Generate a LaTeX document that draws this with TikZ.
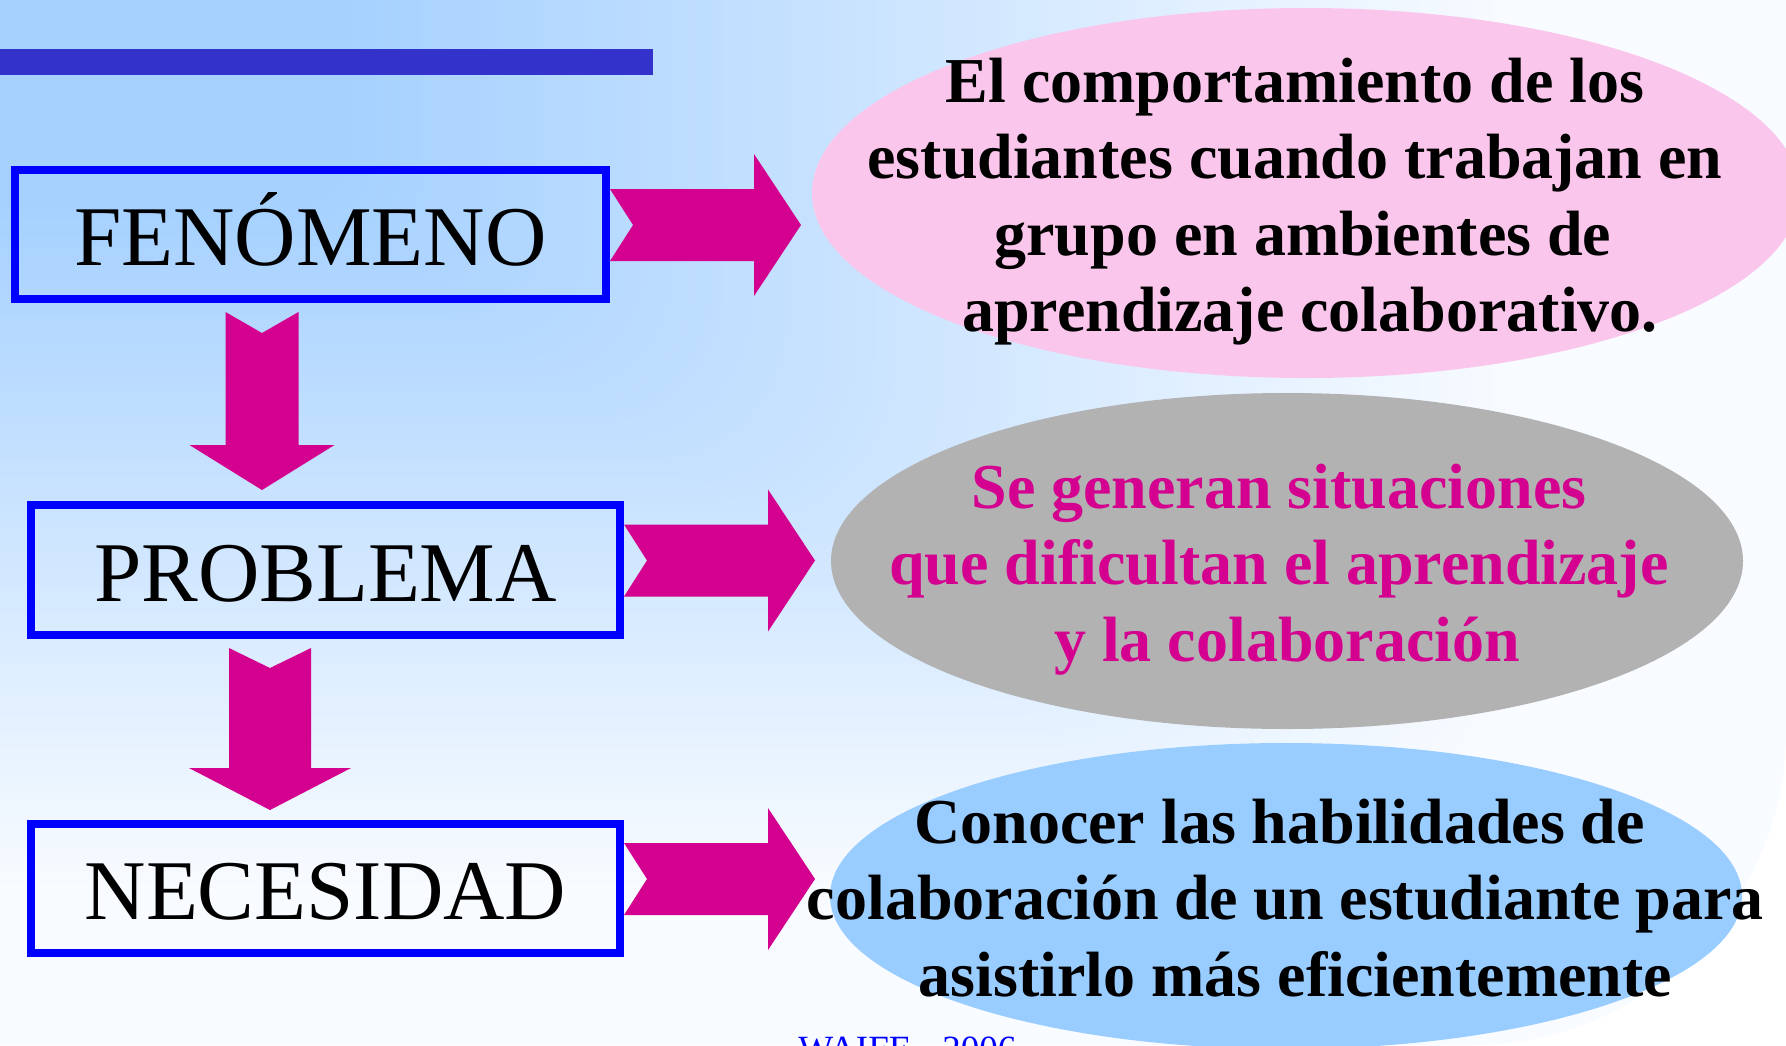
\documentclass[tikz,border=0pt]{standalone}
\usepackage{fontspec}
\setmainfont{Liberation Serif}
\usetikzlibrary{shapes.geometric,calc}
\definecolor{bgA}{RGB}{166,209,255}
\definecolor{bgB}{RGB}{248,251,255}
\definecolor{barc}{RGB}{51,51,204}
\definecolor{arrc}{RGB}{212,0,143}
\definecolor{boxc}{RGB}{0,0,255}
\definecolor{pinkc}{RGB}{251,198,236}
\definecolor{grayc}{RGB}{178,178,178}
\definecolor{bluec}{RGB}{153,204,255}
\begin{document}
\begin{tikzpicture}[x=0.5pt,y=-0.5pt,
  termbox/.style={draw=boxc, line width=4pt, minimum width=295.5pt, minimum height=64.5pt, inner sep=0pt,
    font=\fontsize{42.5pt}{50pt}\selectfont, text height=31pt, text depth=0pt},
  oval/.style={ellipse, inner sep=0pt},
  ovaltext/.style={anchor=base, inner sep=0pt, font=\fontsize{32pt}{38.25pt}\selectfont\bfseries},
  blockarrow/.style={fill=arrc}]
\useasboundingbox (0,0) rectangle (1786,1045);
\clip (0,0) rectangle (1786,1045);
% background gradient from the top-left corner
\foreach \i in {200,...,1}{
  \pgfmathsetmacro\s{\i/200}
  \pgfmathsetmacro\f{max(0,min(1,(\s-0.2)/0.65))}
  \pgfmathsetmacro\p{100*(1-\f)}
  \pgfmathsetmacro\r{0.3*\s*1045*0.5}
  \fill[bgA!\p!bgB, rounded corners=\r pt] (-\s*1786,-\s*1045) rectangle (\s*1786,\s*1045);
}
% top bar
\fill[barc] (0,49) rectangle (653,75);
% boxes
\node[termbox] (b1) at (310.5,234.5) {FENÓMENO};
\node[termbox, minimum width=294.5pt, minimum height=65pt] (b2) at (325.5,570) {PROBLEMA};
\node[termbox, minimum width=294.5pt] (b3) at (325.5,888.5) {NECESIDAD};
% ellipses
\node[oval, fill=pinkc, minimum width=494pt, minimum height=185pt] (e1) at (1306,193) {};
\node[oval, fill=grayc, minimum width=456pt, minimum height=168pt] (e2) at (1287,561) {};
\node[oval, fill=bluec, minimum width=456pt, minimum height=153pt] (e3) at (1286,896) {};
% ellipse texts
\node[ovaltext] (t1) at (1295,102) {\begin{tabular}[t]{@{}c@{}}El comportamiento de los\\ estudiantes cuando trabajan en\\ \hspace*{8pt}grupo en ambientes de\\ \hspace*{15pt}aprendizaje colaborativo.\end{tabular}};
\node[ovaltext, text=arrc] (t2) at (1279,508) {\begin{tabular}[t]{@{}c@{}}Se generan situaciones\\ que dificultan el aprendizaje\\ \hspace*{8pt}y la colaboración\end{tabular}};
\node[ovaltext] (t3) at (1283,843) {\begin{tabular}[t]{@{}c@{}}\hspace*{-3.4pt}Conocer las habilidades de\\ \hspace*{2.3pt}\hbox to 478.5pt{colaboración\hfil de\hfil un\hfil estudiante\hfil para}\\ \hspace*{12.5pt}asistirlo más eficientemente\end{tabular}};
% right block arrows
\foreach \b in {1,2,3}{
  \path (b\b.east) ++(0,-9.5) coordinate (r\b);
  \fill[blockarrow] (r\b) ++(0,-36) -- ++(144,0) -- ++(0,-35) -- ++(47,71) -- ++(-47,71) -- ++(0,-35) -- ++(-144,0) -- ++(23,-36) -- cycle;
}
% down block arrows
\path (b1.south) ++(-48.5,9) coordinate (d1);
\fill[blockarrow] (d1) ++(-36.5,0) -- ++(36.5,21) -- ++(36.5,-21) -- ++(0,133) -- ++(36,0) -- ++(-72.5,45) -- ++(-72.5,-45) -- ++(36,0) -- cycle;
\path (b2.south) ++(-55.5,9) coordinate (d2);
\fill[blockarrow] (d2) ++(-41,0) -- ++(41,20) -- ++(41,-20) -- ++(0,120) -- ++(40,0) -- ++(-81,42) -- ++(-81,-42) -- ++(40,0) -- cycle;
% footer
\node[anchor=base west, inner sep=0pt, text=boxc, font=\fontsize{18.5pt}{22pt}\selectfont] (wf) at (798,1061) {WAIFE - 2006};
\end{tikzpicture}
\end{document}
